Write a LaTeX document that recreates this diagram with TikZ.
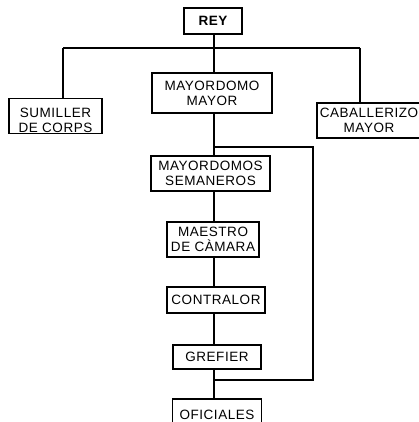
\documentclass[tikz,border=0pt]{standalone}
\usepackage{fontspec}
\setmainfont{Liberation Sans}[LetterSpace=4]
\begin{document}
\begin{tikzpicture}[x=1pt,y=-1pt,
  box/.style={draw, line width=1.3pt, rectangle, inner sep=0pt, align=center,
    font=\fontsize{13.5}{15}\selectfont},
  txt/.style={inner sep=0pt, font=\fontsize{13.5}{15}\selectfont},
  conn/.style={line width=1.3pt}]
\fill[white] (0,0) rectangle (419,422);
\useasboundingbox (0,0) rectangle (419,422);
\clip (0,0) rectangle (419,422);
\node[box, minimum width=58pt, minimum height=26pt, font=\fontsize{13.5}{15}\selectfont\bfseries] (rey) at (213,21) {REY};
\node[box, minimum width=93pt, minimum height=35pt] (sum) at (55.5,116) {};
\node[txt, anchor=base] (sum1) at (55.5,118) {SUMILLER};
\node[txt, anchor=base] (sum2) at (55.5,133) {DE CORPS};
\node[box, minimum width=120pt, minimum height=40pt] (mm) at (212,93) {MAYORDOMO\\MAYOR};
\node[box, minimum width=104pt, minimum height=35pt] (cab) at (369,120.5) {CABALLERIZO\\MAYOR};
\node[box, minimum width=119pt, minimum height=35pt] (sem) at (210.5,173.5) {MAYORDOMOS\\SEMANEROS};
\node[box, minimum width=92pt, minimum height=35pt] (mae) at (213,239.5) {MAESTRO\\DE C\`AMARA};
\node[box, minimum width=98pt, minimum height=26pt] (con) at (216,300) {CONTRALOR};
\node[box, minimum width=88pt, minimum height=24pt] (gre) at (217,357) {GREFIER};
\node[box, draw=none, minimum width=88pt, minimum height=30pt, anchor=north] (ofi) at (217,399) {OFICIALES};
\draw[conn] (ofi.south west) -- (ofi.north west) -- (ofi.north east) -- (ofi.south east);
\coordinate (top) at (214,48);
\coordinate (hl) at (63,48);
\coordinate (hr) at (360,48);
\coordinate (b1) at (214,147);
\coordinate (b2) at (313,147);
\coordinate (b3) at (313,380);
\coordinate (b4) at (214,380);
\draw[conn] (rey.south -| top) -- (top);
\draw[conn] (hl) -- (hr);
\draw[conn] (hl) -- (sum.north -| hl);
\draw[conn] (top) -- (mm.north -| top);
\draw[conn] (hr) -- (cab.north -| hr);
\draw[conn] (mm.south -| top) -- (sem.north -| top);
\draw[conn] (sem.south -| top) -- (mae.north -| top);
\draw[conn] (mae.south -| top) -- (con.north -| top);
\draw[conn] (con.south -| top) -- (gre.north -| top);
\draw[conn] (gre.south -| top) -- (ofi.north -| top);
\draw[conn] (b1) -- (b2) -- (b3) -- (b4);
\end{tikzpicture}
\end{document}
